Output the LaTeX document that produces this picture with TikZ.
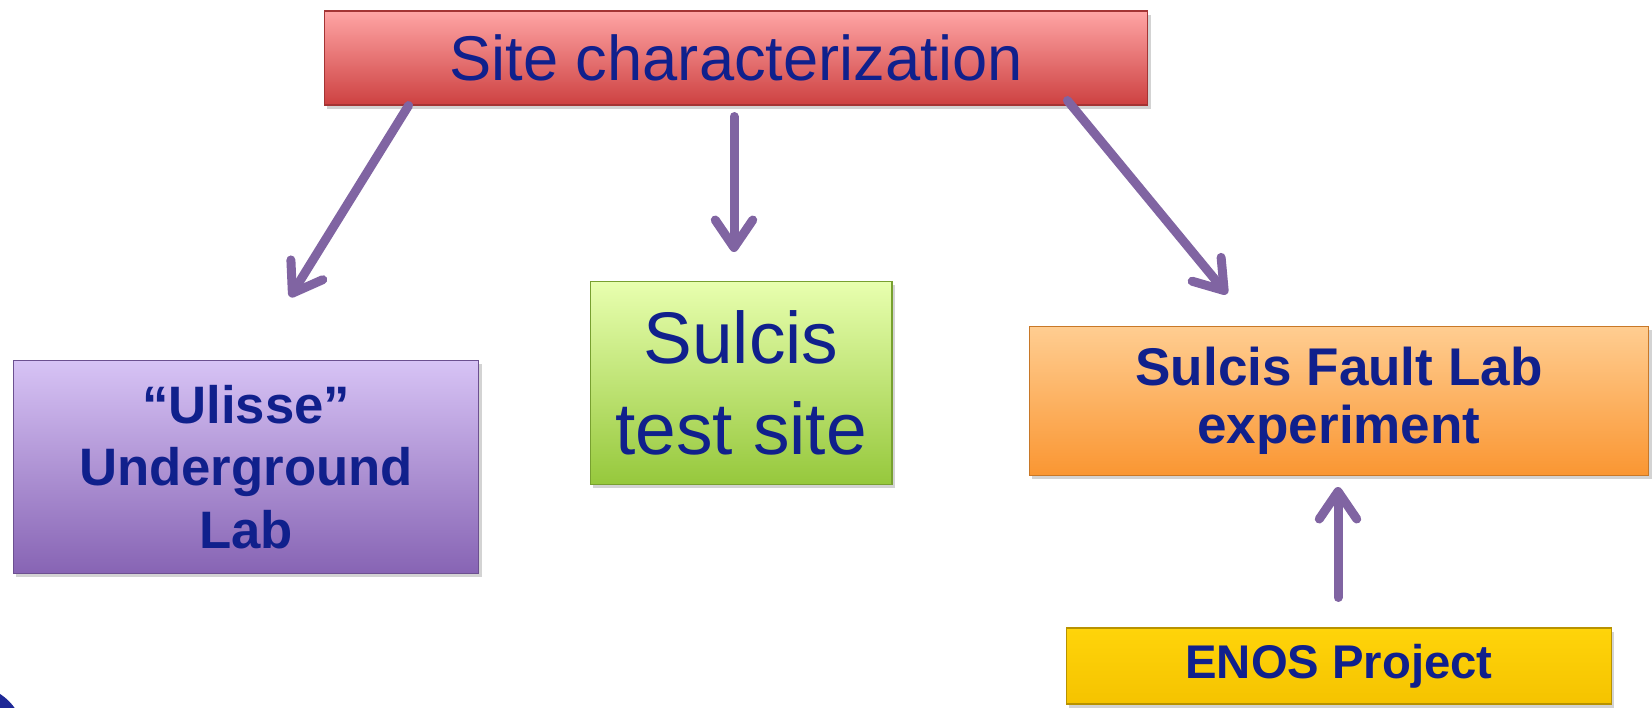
\documentclass[tikz,border=0pt]{standalone}
\usepackage{fontspec}
\setmainfont{Liberation Sans}
\usetikzlibrary{arrows.meta,shadows,calc}

\definecolor{txtblue}{RGB}{16,32,140}
\definecolor{arrowpurple}{RGB}{128,100,162}
\definecolor{cornerblue}{RGB}{30,40,150}
\definecolor{redtop}{RGB}{255,165,165}
\definecolor{redbot}{RGB}{205,65,65}
\definecolor{purpletop}{RGB}{215,195,245}
\definecolor{purplebot}{RGB}{135,100,180}
\definecolor{greentop}{RGB}{232,255,175}
\definecolor{greenbot}{RGB}{150,200,60}
\definecolor{orangetop}{RGB}{255,205,145}
\definecolor{orangebot}{RGB}{250,150,50}
\definecolor{yellowtop}{RGB}{255,212,10}
\definecolor{yellowbot}{RGB}{245,195,0}

\tikzset{
    box/.style={rectangle, inner sep=0pt, align=center, text=txtblue,
        line width=0.6pt,
        drop shadow={shadow xshift=1.5pt, shadow yshift=-2pt, opacity=0.35}},
    flow/.style={draw=arrowpurple, line width=0.18cm, line cap=round, line join=round,
        -{Straight Barb[length=0.55cm, width=0.75cm, round]}}
}

\begin{document}
\begin{tikzpicture}[x=0.02cm, y=-0.02cm]
    \useasboundingbox (0,0) rectangle (1652,707);

    % boxes
    \node[box, top color=redtop, bottom color=redbot, draw=redbot!80!black,
        minimum width=16.48cm, minimum height=1.88cm,
        font=\fontsize{36}{40}\selectfont] (site) at (736,58) {Site characterization};
    \node[box, top color=purpletop, bottom color=purplebot, draw=purplebot!80!black,
        minimum width=9.32cm, minimum height=4.26cm,
        font=\fontsize{30}{35.6}\selectfont\bfseries] (ulisse) at (246,467)
        {``Ulisse''\\Underground\\Lab};
    \node[box, top color=greentop, bottom color=greenbot, draw=greenbot!80!black,
        minimum width=6.04cm, minimum height=4.06cm,
        font=\fontsize{41.6}{52}\selectfont] (sulcis) at (741,383)
        {Sulcis\\test site};
    \node[box, top color=orangetop, bottom color=orangebot, draw=orangebot!80!black,
        minimum width=12.4cm, minimum height=2.98cm,
        font=\fontsize{30.2}{32.9}\selectfont\bfseries] (fault) at (1339,401)
        {Sulcis Fault Lab\\experiment};
    \node[box, top color=yellowtop, bottom color=yellowbot, draw=yellowbot!75!black,
        minimum width=10.9cm, minimum height=1.52cm,
        font=\fontsize{26.9}{30}\selectfont\bfseries] (enos) at (1339,666)
        {ENOS Project};

    % arrows
    \draw[flow] ($(site.south west)+(85,0)$) -- ($(ulisse.north)+(44,-63)$);
    \draw[flow] ($(site.south)+(-2,11)$) -- ($(sulcis.north)+(-7,-29)$);
    \draw[flow] ($(site.south east)+(-81,-5)$) -- ($(fault.north)+(-112,-32)$);
    \draw[flow] ($(enos.north)+(-1,-30)$) -- ($(fault.south)+(-1,11)$);

    % corner of the slide
    \begin{scope}
        \clip (0,0) rectangle (1652,707);
        \fill[cornerblue] (-30,740) circle[radius=55];
    \end{scope}
\end{tikzpicture}
\end{document}
